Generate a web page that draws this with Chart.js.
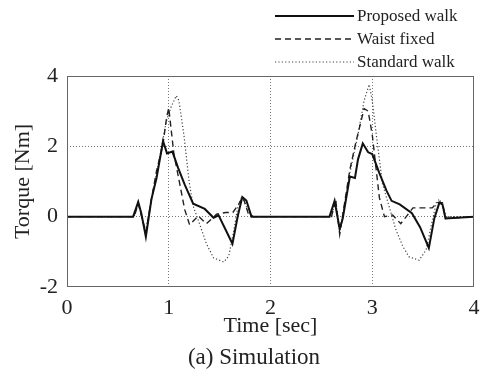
<!DOCTYPE html>
<html>
<head>
<meta charset="utf-8">
<script src="https://cdn.jsdelivr.net/npm/chart.js@4/dist/chart.umd.min.js"></script>
<style>
	body { margin:0; background:#fff; }
	#wrap { position:relative; width:484px; height:375px; }
</style>
</head>
<body>
<div id="wrap"><canvas id="c"></canvas></div>
<script>
// values (time in sec, torque in Nm)
const propT = [0, 0.65, 0.70, 0.73, 0.775, 0.83, 0.88, 0.944, 0.983, 1.036, 1.09, 1.157, 1.24, 1.354, 1.44, 1.49, 1.626, 1.68, 1.723, 1.763, 1.813, 2.58, 2.63, 2.68, 2.71, 2.78, 2.83, 2.86, 2.907, 2.96, 3.0, 3.07, 3.14, 3.19, 3.27, 3.39, 3.47, 3.556, 3.61, 3.66, 3.69, 3.72, 4.0]
const propV = [0, 0, 0.42, 0.1, -0.57, 0.5, 1.1, 2.15, 1.8, 1.85, 1.4, 0.91, 0.37, 0.22, -0.03, 0.04, -0.77, 0.04, 0.56, 0.46, 0, 0, 0.45, -0.35, -0.05, 1.14, 1.1, 1.63, 2.08, 1.83, 1.78, 1.24, 0.74, 0.45, 0.35, 0.1, -0.3, -0.89, -0.05, 0.4, 0.35, -0.05, 0]

const waistT = [0, 0.66, 0.70, 0.775, 0.83, 0.88, 0.94, 0.98, 1.0, 1.05, 1.157, 1.205, 1.29, 1.37, 1.47, 1.56, 1.63, 1.69, 1.73, 1.78, 1.83, 2.6, 2.64, 2.68, 2.78, 2.84, 2.92, 2.96, 3.0, 3.07, 3.12, 3.2, 3.28, 3.4, 3.53, 3.59, 3.64, 3.69, 3.72, 4.0]
const waistV = [0, 0, 0.37, -0.45, 0.5, 1.3, 2.0, 2.84, 3.09, 1.8, 0.2, -0.23, 0.02, -0.2, 0.07, 0.12, 0.12, 0.37, 0.56, 0.1, 0, 0, 0.5, -0.5, 1.34, 2.13, 3.07, 3.0, 2.33, 0.54, 0, 0.05, -0.2, 0.25, 0.25, 0.25, 0.4, 0.4, -0.05, 0]

const stdT = [0, 0.66, 0.70, 0.77, 0.83, 0.88, 0.975, 1.02, 1.074, 1.10, 1.15, 1.2, 1.24, 1.3, 1.37, 1.44, 1.54, 1.59, 1.64, 1.68, 1.72, 1.76, 1.81, 2.6, 2.64, 2.68, 2.78, 2.86, 2.92, 2.97, 3.0, 3.04, 3.1, 3.17, 3.23, 3.3, 3.36, 3.46, 3.53, 3.58, 3.63, 3.66, 3.69, 3.73, 4.0]
const stdV = [0, 0, 0.42, -0.45, 0.5, 1.2, 2.7, 3.1, 3.44, 3.3, 2.3, 1.0, 0.3, -0.18, -0.77, -1.17, -1.29, -1.12, -0.38, 0.3, 0.58, 0.3, 0, 0, 0.45, -0.45, 1.24, 2.33, 3.3, 3.76, 3.3, 2.33, 0.94, 0.25, -0.35, -0.84, -1.14, -1.24, -0.94, -0.25, 0.4, 0.5, 0.3, 0, 0]

const labels = ['Proposed walk', 'Waist fixed', 'Standard walk']
const xTicks = [0, 1, 2, 3, 4]
const yTicks = [-2, 0, 2, 4]
const caption = '(a) Simulation'

const serif = 'Liberation Serif'
const pts = (t, v) => t.map((x, i) => ({x:x, y:v[i]}))

// legend, frame and caption drawn by hand, like the paper figure
const deco = {
	id:'deco',
	afterDraw(ch) {
		const c = ch.ctx, a = ch.chartArea
		c.save()
		c.strokeStyle = '#666'
		c.lineWidth = 1
		c.setLineDash([])
		c.strokeRect(a.left + 0.5, a.top + 0.5, a.right - a.left - 1, a.bottom - a.top - 1)
		c.font = '17px "' + serif + '"'
		c.textBaseline = 'middle'
		c.fillStyle = '#222'
		ch.data.datasets.forEach((d, i) => {
			const y = 16 + i * 23
			c.strokeStyle = d.borderColor
			c.lineWidth = d.borderWidth
			c.setLineDash(d.borderDash || [])
			c.beginPath(); c.moveTo(275, y); c.lineTo(354, y); c.stroke()
			c.fillText(d.label, 357, y + 1)
		})
		c.font = '23px "' + serif + '"'
		c.textAlign = 'center'
		c.fillText(caption, 254, 358)
		c.restore()
	}
}

const gridCol = ctx => (ctx.tick && (ctx.index === 0 || ctx.index === ctx.chart.scales[ctx.scale.id].ticks.length - 1)) ? 'rgba(0,0,0,0)' : '#777'

new Chart(document.getElementById('c'), {
	type:'line',
	data:{
		datasets:[
			{label:labels[0], data:pts(propT, propV), borderColor:'#111', borderWidth:2, borderDash:[], pointRadius:0, fill:false},
			{label:labels[1], data:pts(waistT, waistV), borderColor:'#222', borderWidth:1.4, borderDash:[6, 4], pointRadius:0, fill:false},
			{label:labels[2], data:pts(stdT, stdV), borderColor:'#444', borderWidth:1.2, borderDash:[1.2, 2.2], pointRadius:0, fill:false},
		]
	},
	options:{
		responsive:true,
		maintainAspectRatio:false,
		animation:false,
		layout:{padding:{top:76, right:10, left:0, bottom:0}},
		plugins:{
			legend:{display:false},
			tooltip:{enabled:false},
		},
		scales:{
			x:{
				type:'linear', min:0, max:4,
				afterFit: s => { s.height = 88; s.paddingRight = 0; s.paddingLeft = 0 },
				afterBuildTicks: s => { s.ticks = xTicks.map(v => ({value:v})) },
				grid:{color:gridCol, lineWidth:1, drawTicks:false},
				border:{display:false, dash:[1, 2]},
				ticks:{color:'#222', padding:8, font:{family:serif, size:22}},
				title:{display:true, text:'Time [sec]', color:'#222', font:{family:serif, size:22}, padding:{top:0, bottom:36}},
			},
			y:{
				type:'linear', min:-2, max:4,
				afterFit: s => { s.width = 67 },
				afterBuildTicks: s => { s.ticks = yTicks.map(v => ({value:v})) },
				grid:{color:gridCol, lineWidth:1, drawTicks:false},
				border:{display:false, dash:[1, 2]},
				ticks:{color:'#222', padding:9, font:{family:serif, size:22}},
				title:{display:true, text:'Torque [Nm]', color:'#222', font:{family:serif, size:22}, padding:{top:10, bottom:0}},
			}
		}
	},
	plugins:[deco]
})
</script>
</body>
</html>
